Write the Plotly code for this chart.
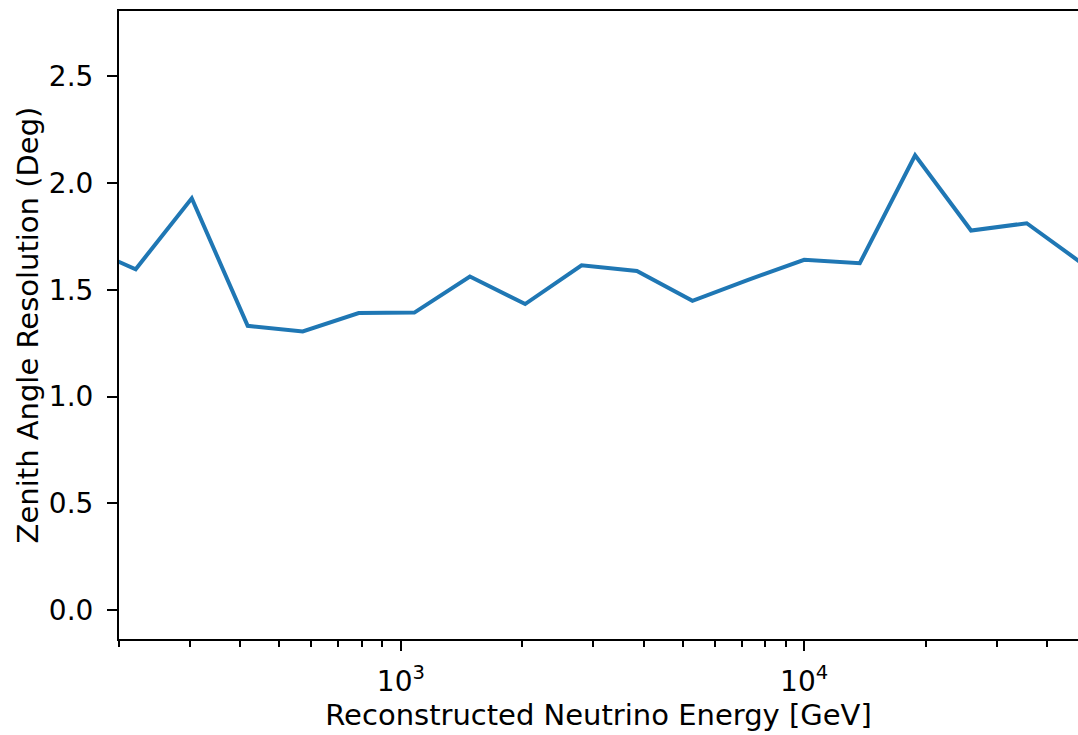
import numpy as np
import plotly.graph_objects as go

# Zenith resolution per reconstructed-energy bin (bin centres in GeV)
energy_gev = [160, 220, 303, 417, 571, 786, 1080, 1483, 2033, 2806, 3848,
              5284, 7263, 10000, 13737, 18841, 25930, 35630, 48980]
zenith_res_deg = [1.71, 1.596, 1.928, 1.331, 1.305, 1.391, 1.393, 1.562, 1.433,
                  1.614, 1.588, 1.448, 1.546, 1.640, 1.624, 2.129, 1.777, 1.811, 1.622]

x_major = [1000, 10000]
x_major_text = ["10<sup>3</sup>", "10<sup>4</sup>"]
x_minor = [200, 300, 400, 500, 600, 700, 800, 900,
           2000, 3000, 4000, 5000, 6000, 7000, 8000, 9000,
           20000, 30000, 40000]
y_ticks = [0.0, 0.5, 1.0, 1.5, 2.0, 2.5]

FONT = "DejaVu Sans"
TICK_SIZE = 28
TITLE_SIZE = 29

fig = go.Figure(go.Scatter(
    x=energy_gev, y=zenith_res_deg, mode="lines",
    line=dict(color="#1f77b4", width=4),
    showlegend=False,
))

fig.update_layout(
    width=1078, height=735,
    margin=dict(l=119, r=0, t=11, b=96),
    paper_bgcolor="white", plot_bgcolor="white",
    font=dict(family=FONT, size=TICK_SIZE, color="black"),
)

fig.update_xaxes(
    type="log",
    range=[np.log10(200), 4.679],
    showline=True, linecolor="black", linewidth=2, mirror=True,
    showgrid=False, zeroline=False,
    ticks="outside", ticklen=10, tickwidth=2, tickcolor="black",
    tickmode="array", tickvals=x_major, ticktext=x_major_text,
    tickfont=dict(family=FONT, size=TICK_SIZE),
    ticklabelstandoff=6,
    minor=dict(ticks="outside", ticklen=6, tickwidth=1.5, tickcolor="black",
               tickmode="array", tickvals=x_minor, showgrid=False),
    title=dict(text="Reconstructed Neutrino Energy [GeV]",
               font=dict(family=FONT, size=TITLE_SIZE), standoff=4),
)

fig.update_yaxes(
    range=[-0.134, 2.804],
    showline=True, linecolor="black", linewidth=2, mirror=False,
    showgrid=False, zeroline=False,
    ticks="outside", ticklen=10, tickwidth=2, tickcolor="black",
    tickmode="array", tickvals=y_ticks,
    ticktext=[f"{v:.1f}" for v in y_ticks],
    tickfont=dict(family=FONT, size=TICK_SIZE),
    ticklabelstandoff=8,
    title=dict(text="Zenith Angle Resolution (Deg)",
               font=dict(family=FONT, size=TITLE_SIZE), standoff=2),
)

fig.write_html("out.html")
